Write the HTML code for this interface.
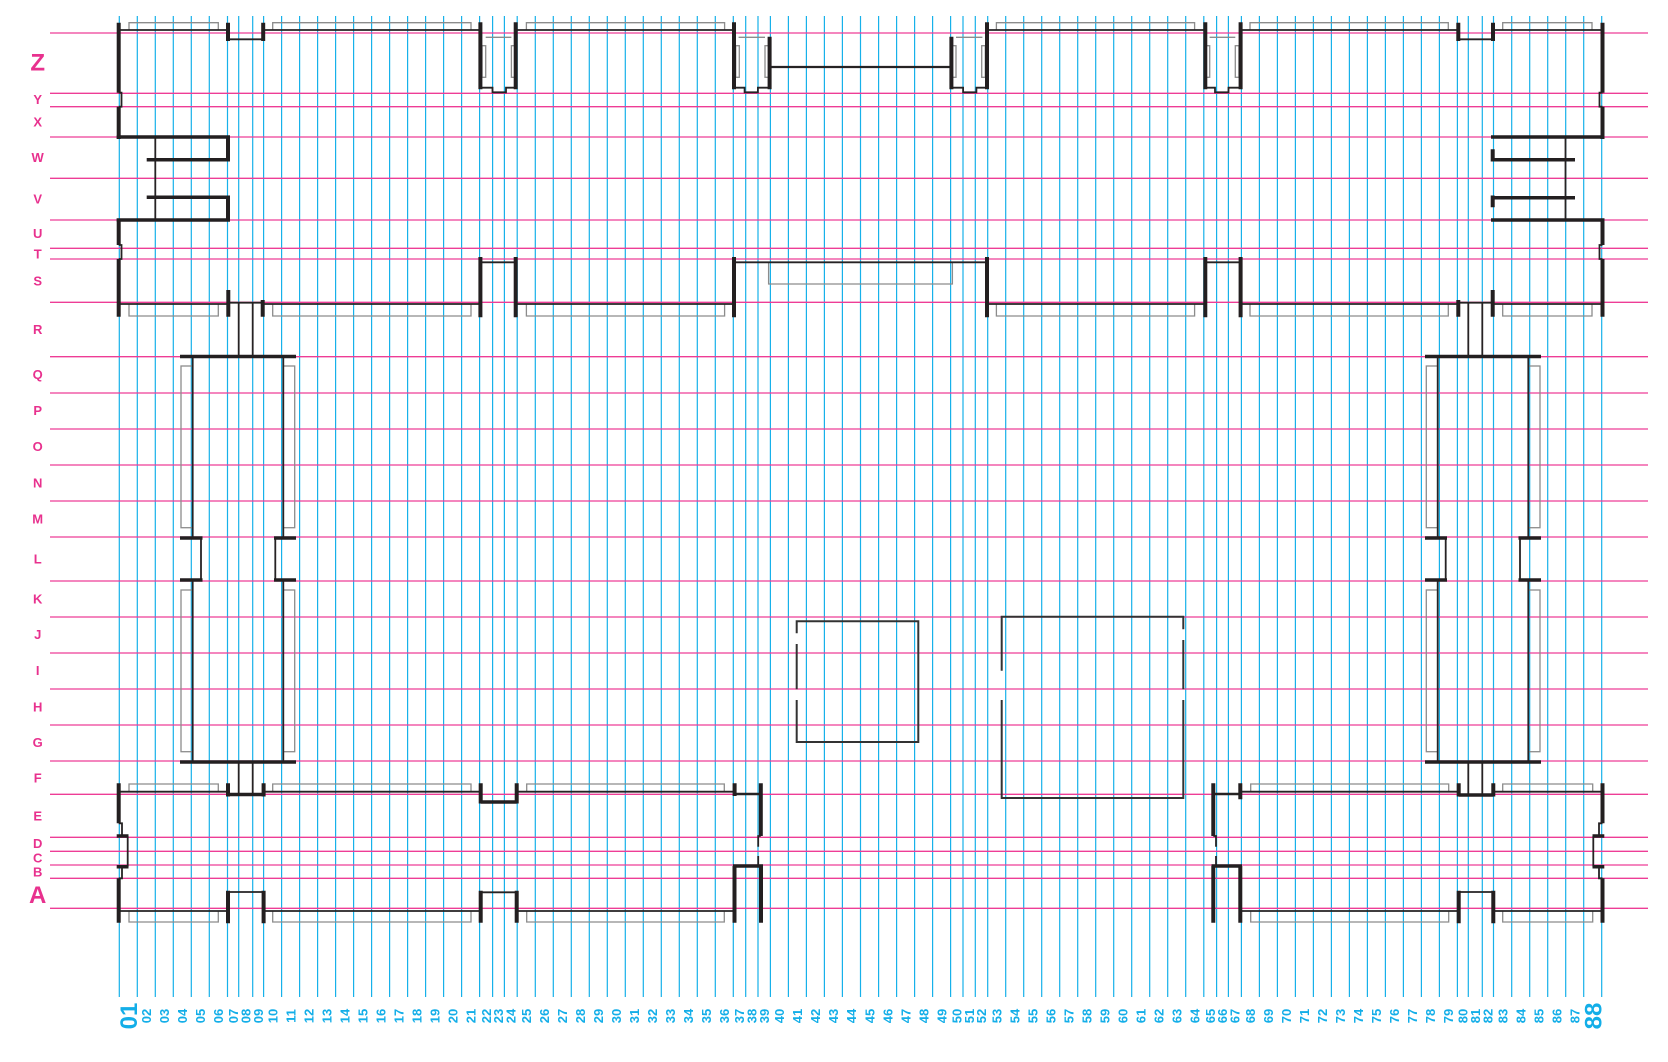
<!DOCTYPE html>
<html><head><meta charset="utf-8"><style>
html,body{margin:0;padding:0;background:#fff;}
svg{display:block;}
.lb{font-family:"Liberation Sans",Arial,sans-serif;font-weight:bold;fill:#13aee8;text-anchor:middle;}
.lt{font-family:"Liberation Sans",Arial,sans-serif;font-weight:bold;fill:#e8318e;text-anchor:middle;}
</style></head><body>
<svg width="1668" height="1062" viewBox="0 0 1668 1062" xmlns="http://www.w3.org/2000/svg">
<rect width="1668" height="1062" fill="#fff"/>
<!-- blue verticals -->
<path fill="none" stroke="#17b1ea" stroke-width="1.2" d="M119.3 16V997M137.3 16V997M155.3 16V997M173.3 16V997M191.3 16V997M209.3 16V997M227.5 16V997M238.7 16V997M252.7 16V997M263.6 16V997M281.6 16V997M299.6 16V997M317.6 16V997M335.6 16V997M353.6 16V997M371.6 16V997M389.6 16V997M407.6 16V997M425.6 16V997M443.6 16V997M461.6 16V997M479.6 16V997M492.6 16V997M504.4 16V997M517.2 16V997M535.3 16V997M553.3 16V997M571.3 16V997M589.3 16V997M607.3 16V997M625.3 16V997M643.3 16V997M661.3 16V997M679.3 16V997M697.3 16V997M715.3 16V997M733.3 16V997M745.7 16V997M758 16V997M770.4 16V997M788.4 16V997M806.4 16V997M824.4 16V997M842.4 16V997M860.5 16V997M878.6 16V997M896.6 16V997M914.6 16V997M932.6 16V997M950.6 16V997M963 16V997M975.3 16V997M987.7 16V997M1005.7 16V997M1023.7 16V997M1041.7 16V997M1059.7 16V997M1077.7 16V997M1095.7 16V997M1113.7 16V997M1131.7 16V997M1149.7 16V997M1167.7 16V997M1185.7 16V997M1203.8 16V997M1216.6 16V997M1228.4 16V997M1241.4 16V997M1259.4 16V997M1277.4 16V997M1295.4 16V997M1313.4 16V997M1331.4 16V997M1349.4 16V997M1367.4 16V997M1385.4 16V997M1403.4 16V997M1421.4 16V997M1439.4 16V997M1457.4 16V997M1468.3 16V997M1482.3 16V997M1493.5 16V997M1511.7 16V997M1529.7 16V997M1547.7 16V997M1565.7 16V997M1583.7 16V997M1601.7 16V997"/>
<!-- pink horizontals -->
<path fill="none" stroke="#ee3d96" stroke-width="1.3" d="M50 33H1648M50 93.3H1648M50 106.7H1648M50 137H1648M50 178.3H1648M50 220H1648M50 248.3H1648M50 259H1648M50 302.3H1648M50 356.7H1648M50 393H1648M50 429H1648M50 465H1648M50 501H1648M50 537H1648M50 581H1648M50 617H1648M50 653H1648M50 689H1648M50 725H1648M50 761H1648M50 794.3H1648M50 837.3H1648M50 851.3H1648M50 865H1648M50 878.3H1648M50 908.3H1648"/>

<!-- grey outlines -->
<g fill="none" stroke="#8c8c8c" stroke-width="1.3">
<path d="M129 30V22.7H218.3V30M272.7 30V22.7H471V30M526.4 30V22.7H724.6V30M996.4 30V22.7H1194.6V30M1250 30V22.7H1448.3V30M1502.7 30V22.7H1592V30"/>
<path d="M485.7 37.3H511.4M1209.6 37.3H1235.3M738.6 37.3H765M956 37.3H982.4"/>
<rect x="482" y="45.7" width="3.7" height="31.6"/><rect x="511.4" y="45.7" width="4.3" height="31.6"/>
<rect x="1205.4" y="45.7" width="4.3" height="31.6"/><rect x="1235.3" y="45.7" width="3.7" height="31.6"/>
<rect x="735.7" y="45.7" width="3.6" height="31.6"/><rect x="765" y="45.7" width="4" height="31.6"/>
<rect x="952" y="45.7" width="4" height="31.6"/><rect x="981.7" y="45.7" width="3.6" height="31.6"/>
<path d="M129 304V316H218.3V304M272.7 304V316H471V304M526.4 304V316H724.6V304M996.4 304V316H1194.6V304M1250 304V316H1448.3V304M1502.7 304V316H1592V304M768.6 262.3V284H952.4V262.3"/>
<rect x="181" y="366" width="11.7" height="161.7"/><rect x="283.3" y="366" width="11.4" height="161.7"/>
<rect x="181" y="590" width="11.7" height="161.7"/><rect x="283.3" y="590" width="11.4" height="161.7"/>
<rect x="1528.3" y="366" width="11.7" height="161.7"/><rect x="1426.3" y="366" width="11.4" height="161.7"/>
<rect x="1528.3" y="590" width="11.7" height="161.7"/><rect x="1426.3" y="590" width="11.4" height="161.7"/>
<path d="M129 791.7V784H218.3V791.7M272.7 791.7V784H471V791.7M526.7 791.7V784H724.3V791.7M1250.7 791.7V784H1448.7V791.7M1502.7 791.7V784H1592.7V791.7"/>
<path d="M129 911V922H218.3V911M272.7 911V922H471V911M526.7 911V922H724.3V911M1250.7 911V922H1448.7V911M1502.7 911V922H1592.7V911"/>
</g>

<!-- medium dark lines -->
<g fill="none" stroke="#262324" stroke-width="1.8">
<path d="M119 30H228M263.6 30H480.4M515.7 30H734M987 30H1205.3M1240.6 30H1458.3M1493 30H1602.5"/>
<path d="M228 39.3H263.2M1458.3 39.3H1493"/>
<path d="M480.4 87.7H492.5V92.3H506V87.7H515.7M1205.3 87.7H1215V92.3H1228.5V87.7H1240.6M734 87.7H744.6V92.3H757.9V87.7H769.6M951.4 87.7H963.1V92.3H976.4V87.7H987"/>
<path d="M769.6 67H951.4" stroke-width="2.2"/>
<path d="M118.7 92.7H121.5V106.7H118.7M1602.5 92.7H1599.5V106.7H1602.5M118.7 245H121.5V259H118.7M1602.5 245H1599.5V259H1602.5"/>
<path d="M155.3 137V220M1565.5 137V220"/>
<path d="M119 304H228.3M262.7 304H480.4M515.7 304H734M987 304H1205.3M1240.6 304H1458.3M1492.7 304H1602.5"/>
<path d="M734 262.3H987M480.4 262.3H515.7M1205.3 262.3H1240.6M228.3 302.7H262.7M1458.3 302.7H1492.7"/>
<path d="M238.7 302.7V356M252.7 302.7V356M1468.3 302.7V356M1482.3 302.7V356M238.7 762V794M252.7 762V794M1468.3 762V795M1482.3 762V795"/>
<path d="M192.7 356V538M192.7 580V762M283.3 356V538M283.3 580V762M201 538V580M275.3 538V580M1528.3 356V538M1528.3 580V762M1437.7 356V538M1437.7 580V762M1520 538V580M1445.7 538V580"/>
<path d="M119 791.7H228M263.6 791.7H480.7M516.7 791.7H734.6M1240.3 791.7H1458.7M1493.3 791.7H1602.5"/>
<path d="M734.6 794H760.8M1213.3 794H1240.3" stroke-width="2.6"/>
<path d="M760.8 836H758.2V846.7M758.2 856V865M1213.3 836H1216V846.7M1216 856V865"/>
<path d="M118.7 823.3H122V836M127.7 836V866.7M122 866.7V878.3H118.7M1602.5 823.3H1599V836M1593.3 836V866.7M1599 866.7V878.3H1602.5"/>
<path d="M119 911H228M263.6 911H480.7M516.7 911H734.5M1240.3 911H1458.7M1493.3 911H1602.5"/>
<path d="M228 892H263.6M480.7 892.3H516.7M1458.7 892H1493.3"/>
</g>

<!-- centre boxes -->
<g fill="none" stroke="#333" stroke-width="2">
<path d="M796.7 700V742H918.3V621.3H796.7V633.3M796.7 644V689.3"/>
<path d="M1001.7 670.7V616.7H1183.3V629.3M1183.3 640V689.3M1183.3 700V798H1001.7V700"/>
</g>

<!-- thick verticals -->
<path fill="none" stroke="#231f20" stroke-width="4" d="M118.7 22.7V92.7M118.7 106.7V139M1602.5 22.7V92.7M1602.5 106.7V139M228 22.7V41M263.2 22.7V41M1458.3 22.7V41M1493 22.7V41M480.4 22.3V89.3M515.7 22.3V89.3M1205.3 22.3V89.3M1240.6 22.3V89.3M734 22.3V89.3M769.6 36.7V89.3M951.4 36.7V89.3M987 22.3V89.3M228 137V161.5M228 195.5V221.5M1492.7 149.3V161.5M1492.7 195.5V207.3M118.7 218.5V245M118.7 259V316.7M1602.5 218.5V245M1602.5 259V316.7M480.4 257V317.3M515.7 257V317.3M1205.3 257V317.3M1240.6 257V317.3M734 257V317.3M987 257V317.3M228.3 290V316.7M262.7 300V316.7M1458.3 300V316.7M1492.7 290V316.7M118.7 783.3V823.3M118.7 878.3V922.7M1602.5 783.3V823.3M1602.5 878.3V922.7M228 783.3V796.5M263.6 783.3V796.5M1458.7 783.3V796.5M1493.3 783.3V796.5M480.7 783.3V803.5M516.7 783.3V803.5M734.6 783.3V796M760.8 783.3V836M734.5 866V922.7M761 866V922.7M1213.3 783.3V836M1240.3 783.3V799.3M1213.3 866V922.7M1240.3 866V922.7M228 890.7V923.3M263.6 890.7V923.3M1458.7 890.7V923.3M1493.3 890.7V923.3M480.7 890.7V922.7M516.7 890.7V922.7"/>
<!-- thick horizontals -->
<path fill="none" stroke="#231f20" stroke-width="3.5" d="M116.7 137H230M146.7 159.7H230M146.7 197.3H230M116.7 220H230M1491 137H1604.5M1491 159.7H1575M1491 197.7H1575M1491 220H1604.5M180 356.5H296M180 538H202.5M180 580H202.5M274 538H296M274 580H296M180 762H296M1425 356.5H1541M1518.5 538H1541M1518.5 580H1541M1425 538H1447M1425 580H1447M1425 762H1541M228 794.5H263.6M1458.7 795H1493.3M480.7 802H516.7M733 866H763M1211.5 866H1242M116.7 836H128.5M116.7 866.7H128.5M1592.5 836H1604.3M1592.5 866.7H1604.3"/>

<!-- row labels -->
<text class="lt" x="37.7" y="70.3" font-size="24">Z</text>
<text class="lt" x="37.7" y="104" font-size="13">Y</text>
<text class="lt" x="37.7" y="126.7" font-size="13">X</text>
<text class="lt" x="37.7" y="162" font-size="13">W</text>
<text class="lt" x="37.7" y="203.4" font-size="13">V</text>
<text class="lt" x="37.7" y="238" font-size="13">U</text>
<text class="lt" x="37.7" y="258.7" font-size="13">T</text>
<text class="lt" x="37.7" y="285.4" font-size="13">S</text>
<text class="lt" x="37.7" y="334" font-size="13">R</text>
<text class="lt" x="37.7" y="379" font-size="13">Q</text>
<text class="lt" x="37.7" y="415" font-size="13">P</text>
<text class="lt" x="37.7" y="451" font-size="13">O</text>
<text class="lt" x="37.7" y="487.4" font-size="13">N</text>
<text class="lt" x="37.7" y="523.4" font-size="13">M</text>
<text class="lt" x="37.7" y="563.4" font-size="13">L</text>
<text class="lt" x="37.7" y="603.4" font-size="13">K</text>
<text class="lt" x="37.7" y="639" font-size="13">J</text>
<text class="lt" x="37.7" y="675" font-size="13">I</text>
<text class="lt" x="37.7" y="711.4" font-size="13">H</text>
<text class="lt" x="37.7" y="747" font-size="13">G</text>
<text class="lt" x="37.7" y="782.4" font-size="13">F</text>
<text class="lt" x="37.7" y="820.7" font-size="13">E</text>
<text class="lt" x="37.7" y="848" font-size="13">D</text>
<text class="lt" x="37.7" y="862.4" font-size="13">C</text>
<text class="lt" x="37.7" y="876.4" font-size="13">B</text>
<text class="lt" x="37.7" y="902.9" font-size="24">A</text>

<!-- column labels -->
<g class="lb" font-size="13">
<text transform="translate(128.3 1016) rotate(-90)" y="8.6" font-size="24">01</text>
<text transform="translate(146.3 1016) rotate(-90)" y="4.65">02</text>
<text transform="translate(164.3 1016) rotate(-90)" y="4.65">03</text>
<text transform="translate(182.3 1016) rotate(-90)" y="4.65">04</text>
<text transform="translate(200.3 1016) rotate(-90)" y="4.65">05</text>
<text transform="translate(218.4 1016) rotate(-90)" y="4.65">06</text>
<text transform="translate(233.1 1016) rotate(-90)" y="4.65">07</text>
<text transform="translate(245.7 1016) rotate(-90)" y="4.65">08</text>
<text transform="translate(258.2 1016) rotate(-90)" y="4.65">09</text>
<text transform="translate(272.6 1016) rotate(-90)" y="4.65">10</text>
<text transform="translate(290.6 1016) rotate(-90)" y="4.65">11</text>
<text transform="translate(308.6 1016) rotate(-90)" y="4.65">12</text>
<text transform="translate(326.6 1016) rotate(-90)" y="4.65">13</text>
<text transform="translate(344.6 1016) rotate(-90)" y="4.65">14</text>
<text transform="translate(362.6 1016) rotate(-90)" y="4.65">15</text>
<text transform="translate(380.6 1016) rotate(-90)" y="4.65">16</text>
<text transform="translate(398.6 1016) rotate(-90)" y="4.65">17</text>
<text transform="translate(416.6 1016) rotate(-90)" y="4.65">18</text>
<text transform="translate(434.6 1016) rotate(-90)" y="4.65">19</text>
<text transform="translate(452.6 1016) rotate(-90)" y="4.65">20</text>
<text transform="translate(470.6 1016) rotate(-90)" y="4.65">21</text>
<text transform="translate(486.1 1016) rotate(-90)" y="4.65">22</text>
<text transform="translate(498.5 1016) rotate(-90)" y="4.65">23</text>
<text transform="translate(510.8 1016) rotate(-90)" y="4.65">24</text>
<text transform="translate(526.3 1016) rotate(-90)" y="4.65">25</text>
<text transform="translate(544.3 1016) rotate(-90)" y="4.65">26</text>
<text transform="translate(562.3 1016) rotate(-90)" y="4.65">27</text>
<text transform="translate(580.3 1016) rotate(-90)" y="4.65">28</text>
<text transform="translate(598.3 1016) rotate(-90)" y="4.65">29</text>
<text transform="translate(616.3 1016) rotate(-90)" y="4.65">30</text>
<text transform="translate(634.3 1016) rotate(-90)" y="4.65">31</text>
<text transform="translate(652.3 1016) rotate(-90)" y="4.65">32</text>
<text transform="translate(670.3 1016) rotate(-90)" y="4.65">33</text>
<text transform="translate(688.3 1016) rotate(-90)" y="4.65">34</text>
<text transform="translate(706.3 1016) rotate(-90)" y="4.65">35</text>
<text transform="translate(724.3 1016) rotate(-90)" y="4.65">36</text>
<text transform="translate(739.5 1016) rotate(-90)" y="4.65">37</text>
<text transform="translate(751.9 1016) rotate(-90)" y="4.65">38</text>
<text transform="translate(764.2 1016) rotate(-90)" y="4.65">39</text>
<text transform="translate(779.4 1016) rotate(-90)" y="4.65">40</text>
<text transform="translate(797.4 1016) rotate(-90)" y="4.65">41</text>
<text transform="translate(815.4 1016) rotate(-90)" y="4.65">42</text>
<text transform="translate(833.4 1016) rotate(-90)" y="4.65">43</text>
<text transform="translate(851.5 1016) rotate(-90)" y="4.65">44</text>
<text transform="translate(869.6 1016) rotate(-90)" y="4.65">45</text>
<text transform="translate(887.6 1016) rotate(-90)" y="4.65">46</text>
<text transform="translate(905.6 1016) rotate(-90)" y="4.65">47</text>
<text transform="translate(923.6 1016) rotate(-90)" y="4.65">48</text>
<text transform="translate(941.6 1016) rotate(-90)" y="4.65">49</text>
<text transform="translate(956.8 1016) rotate(-90)" y="4.65">50</text>
<text transform="translate(969.2 1016) rotate(-90)" y="4.65">51</text>
<text transform="translate(981.5 1016) rotate(-90)" y="4.65">52</text>
<text transform="translate(996.7 1016) rotate(-90)" y="4.65">53</text>
<text transform="translate(1014.7 1016) rotate(-90)" y="4.65">54</text>
<text transform="translate(1032.7 1016) rotate(-90)" y="4.65">55</text>
<text transform="translate(1050.7 1016) rotate(-90)" y="4.65">56</text>
<text transform="translate(1068.7 1016) rotate(-90)" y="4.65">57</text>
<text transform="translate(1086.7 1016) rotate(-90)" y="4.65">58</text>
<text transform="translate(1104.7 1016) rotate(-90)" y="4.65">59</text>
<text transform="translate(1122.7 1016) rotate(-90)" y="4.65">60</text>
<text transform="translate(1140.7 1016) rotate(-90)" y="4.65">61</text>
<text transform="translate(1158.7 1016) rotate(-90)" y="4.65">62</text>
<text transform="translate(1176.7 1016) rotate(-90)" y="4.65">63</text>
<text transform="translate(1194.8 1016) rotate(-90)" y="4.65">64</text>
<text transform="translate(1210.2 1016) rotate(-90)" y="4.65">65</text>
<text transform="translate(1222.5 1016) rotate(-90)" y="4.65">66</text>
<text transform="translate(1234.9 1016) rotate(-90)" y="4.65">67</text>
<text transform="translate(1250.4 1016) rotate(-90)" y="4.65">68</text>
<text transform="translate(1268.4 1016) rotate(-90)" y="4.65">69</text>
<text transform="translate(1286.4 1016) rotate(-90)" y="4.65">70</text>
<text transform="translate(1304.4 1016) rotate(-90)" y="4.65">71</text>
<text transform="translate(1322.4 1016) rotate(-90)" y="4.65">72</text>
<text transform="translate(1340.4 1016) rotate(-90)" y="4.65">73</text>
<text transform="translate(1358.4 1016) rotate(-90)" y="4.65">74</text>
<text transform="translate(1376.4 1016) rotate(-90)" y="4.65">75</text>
<text transform="translate(1394.4 1016) rotate(-90)" y="4.65">76</text>
<text transform="translate(1412.4 1016) rotate(-90)" y="4.65">77</text>
<text transform="translate(1430.4 1016) rotate(-90)" y="4.65">78</text>
<text transform="translate(1448.4 1016) rotate(-90)" y="4.65">79</text>
<text transform="translate(1462.9 1016) rotate(-90)" y="4.65">80</text>
<text transform="translate(1475.3 1016) rotate(-90)" y="4.65">81</text>
<text transform="translate(1487.9 1016) rotate(-90)" y="4.65">82</text>
<text transform="translate(1502.6 1016) rotate(-90)" y="4.65">83</text>
<text transform="translate(1520.7 1016) rotate(-90)" y="4.65">84</text>
<text transform="translate(1538.7 1016) rotate(-90)" y="4.65">85</text>
<text transform="translate(1556.7 1016) rotate(-90)" y="4.65">86</text>
<text transform="translate(1574.7 1016) rotate(-90)" y="4.65">87</text>
<text transform="translate(1592.7 1016) rotate(-90)" y="8.6" font-size="24">88</text>
</g>
</svg>
</body></html>
